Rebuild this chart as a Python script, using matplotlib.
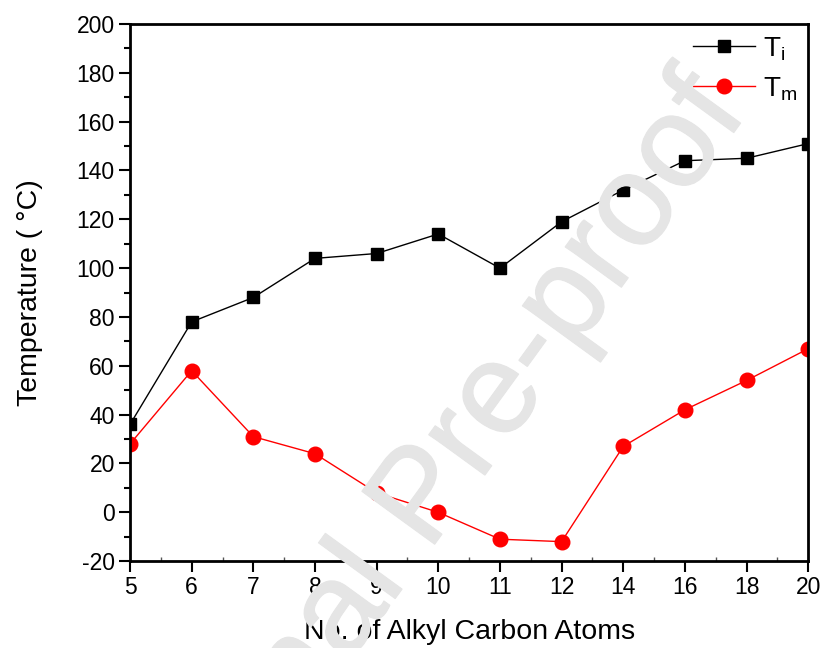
import matplotlib
matplotlib.use('Agg')
import matplotlib.pyplot as plt
import matplotlib.patheffects as pe
import numpy as np

plt.rcParams['font.family'] = ['Liberation Sans', 'DejaVu Sans']
plt.rcParams['mathtext.fontset'] = 'custom'
plt.rcParams['mathtext.rm'] = 'Liberation Sans'
plt.rcParams['mathtext.it'] = 'Liberation Sans'
plt.rcParams['axes.unicode_minus'] = False

# number of alkyl carbons (plotted as evenly spaced categories)
carbons = ['5', '6', '7', '8', '9', '10', '11', '12', '14', '16', '18', '20']
t_i = [36, 78, 88, 104, 106, 114, 100, 119, 132, 144, 145, 151]
t_m = [28, 58, 31, 24, 8, 0, -11, -12, 27, 42, 54, 67]

fig = plt.figure(figsize=(8.23, 6.48), dpi=100)
ax = fig.add_axes([0.158, 0.134, 0.824, 0.829])

x = np.arange(len(carbons))
ax.plot(x, t_i, color='black', lw=1, marker='s', ms=9, mec='black',
        label=r'$\mathregular{T_i}$')
ax.plot(x, t_m, color='red', lw=1, marker='o', ms=10.5, mec='red',
        label=r'$\mathregular{T_m}$')

ax.set_xlim(0, len(carbons) - 1)
ax.set_ylim(-20, 200)
ax.set_xticks(x)
ax.set_xticklabels(carbons)
ax.set_xticks(x[:-1] + 0.5, minor=True)
ax.set_yticks(np.arange(-20, 201, 20))
ax.set_yticks(np.arange(-10, 200, 20), minor=True)

for s in ax.spines.values():
    s.set_linewidth(2)
ax.tick_params(axis='both', which='major', direction='out', length=8, width=1.5,
               labelsize=16.5, pad=3)
ax.tick_params(axis='y', which='minor', direction='out', length=4, width=1.5)
ax.tick_params(axis='x', which='minor', direction='in', length=3, width=1,
               color='#555555')

ax.set_xlabel('No. of Alkyl Carbon Atoms', fontsize=20.5, labelpad=14)
ax.set_ylabel('Temperature ( °C)', fontsize=20.5, labelpad=24)

leg = ax.legend(loc='upper right', frameon=False, fontsize=20,
                handlelength=2.2, handletextpad=0.3, borderaxespad=0.0,
                labelspacing=0.45, bbox_to_anchor=(1.0, 1.0))

# watermark across the figure, strokes thickened slightly
wm = '#e5e5e5'
fig.text(0.515, 0.228, 'Journal Pre-proof', fontsize=94, color=wm,
         rotation=54, ha='center', va='center', zorder=10,
         path_effects=[pe.withStroke(linewidth=1.0, foreground=wm)])

fig.savefig('out.png', dpi=100)
